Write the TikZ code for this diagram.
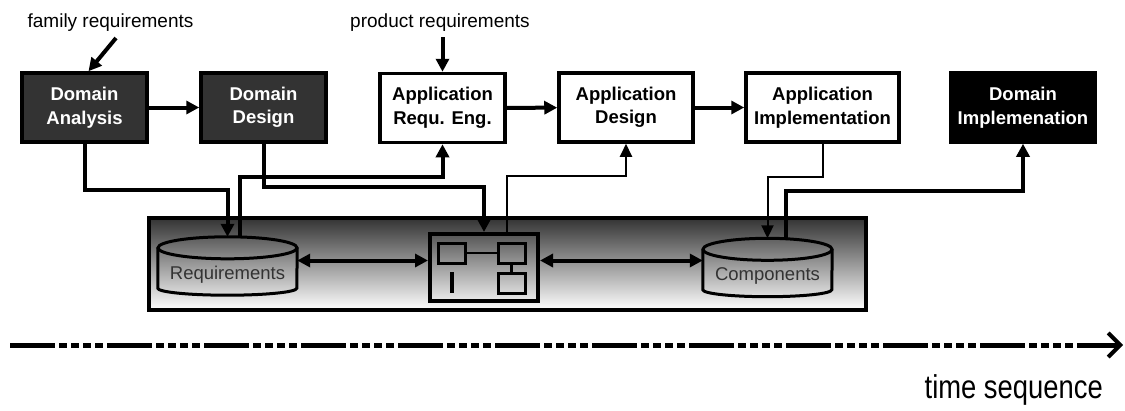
\documentclass[tikz,border=0pt]{standalone}
\usepackage{fontspec}
\setmainfont{Liberation Sans}
\newfontfamily\narrowsans[FakeStretch=0.83]{Liberation Sans}
\usetikzlibrary{arrows.meta,calc}
\newcommand\drawtub[2]{%
  % outline of a storage tub around the rectangular node #1 (half width #2)
  \draw[tubline] ($(#1.north)+(0,11)$) ellipse [x radius=#2, y radius=11pt];
  \draw[tubline] ($(#1.north west)+(0,11)$) -- ($(#1.south west)+(0,-7)$)
    arc [start angle=180, end angle=360, x radius=#2, y radius=7pt]
    -- ($(#1.north east)+(0,11)$);
}
\begin{document}
\begin{tikzpicture}[x=1pt,y=-1pt,
  proc/.style={draw=black, line width=3.5pt, minimum height=69pt, align=center,
    inner sep=0pt, font=\fontsize{18.5}{23.5}\selectfont\bfseries},
  darkproc/.style={proc, fill=black!80, text=white},
  blackproc/.style={proc, fill=black, text=white},
  lightproc/.style={proc, fill=white, text=black},
  reqlabel/.style={font=\fontsize{19}{22}\selectfont, anchor=base},
  arr/.style={line width=4pt, -{Triangle[length=13pt,width=13pt]}},
  thinarr/.style={line width=2pt, -{Triangle[length=13pt,width=12pt]}},
  dblarr/.style={line width=4pt, {Triangle[length=13pt,width=13pt]}-{Triangle[length=13pt,width=13pt]}},
  tubnode/.style={minimum width=139pt, minimum height=58pt, inner sep=0pt,
    text=black!80, font=\fontsize{18.5}{20}\selectfont},
  tubline/.style={line width=3pt, draw=black},
  iconbox/.style={draw=black, line width=3pt, minimum width=27pt, minimum height=20pt, inner sep=0pt},
  timeline/.style={line width=5pt,
    dash pattern=on 45pt off 4pt on 8pt off 4pt on 8pt off 4pt on 8pt off 4pt on 8pt off 4pt,
    -{Straight Barb[length=12pt,width=24pt,line width=4pt]}}
]
\useasboundingbox (0,0) rectangle (1125,410);
\fill[white] (0,0) rectangle (1125,410);

% repository panel
\node[draw=black, line width=4pt, minimum width=717pt, minimum height=92pt, inner sep=0pt,
  top color=black!80, bottom color=white] (repo) at (507.5,264) {};

% process boxes
\node[darkproc, minimum width=125pt] (DA) at (84.5,107.5) {Domain\\Analysis};
\node[darkproc, minimum width=125pt] (DD) at (263.5,107.5) {Domain\\Design};
\node[lightproc, minimum width=125pt] (ARE) at (442.5,108) {Application\\Requ. Eng.};
\node[lightproc, minimum width=134pt] (AD) at (626,107.5) {Application\\Design};
\node[lightproc, minimum width=153pt] (AI) at (822.5,107.5) {Application\\Implementation};
\node[blackproc, minimum width=144pt] (DI) at (1023,107.5) {Domain\\Implemenation};

% inputs
\node[reqlabel] (famlab) at (110.5,27) {family requirements};
\node[reqlabel] (prodlab) at (440,27) {product requirements};
\coordinate (famsrc) at (116,38);
\coordinate (prodsrc) at (442.5,37);
\draw[arr] (famsrc) -- ([xshift=4pt]DA.north);
\draw[arr] (prodsrc) -- (ARE.north);

% repositories
\node[tubnode] (req) at (227.5,266) {\raisebox{-13pt}[0pt][0pt]{Requirements}};
\drawtub{req}{69.5pt}
\node[tubnode, minimum width=129pt] (comp) at (767.5,267.5) {\raisebox{-13pt}[0pt][0pt]{Components}};
\drawtub{comp}{64.5pt}

% architecture icon
\node[draw=black, line width=4pt, minimum width=108pt, minimum height=67pt, inner sep=0pt] (arch) at (484,267.5) {};
\node[iconbox] (a1) at ($(arch.center)+(-32.5,-14.5)$) {};
\node[iconbox] (a2) at ($(arch.center)+(27.5,-14.5)$) {};
\node[iconbox] (a3) at ($(arch.center)+(27.5,15.5)$) {};
\coordinate (b1) at ($(arch.center)+(-32,4.5)$);
\coordinate (b2) at ($(arch.center)+(-32,25.5)$);
\draw[line width=2.5pt] (a1) -- (a2);
\draw[line width=2.5pt] (a2) -- (a3);
\draw[line width=4pt] (b1) -- (b2);

% flow between process boxes
\draw[arr] (DA) -- (DD);
\draw[arr] (ARE) -- (AD);
\draw[arr] (AD) -- (AI);

% flow to and from the repository
\draw[arr] (DA.south) -- ++(0,46) -| (req.north);
\draw[arr] ([xshift=12pt]req.north) -- ++(0,-60) -| (ARE.south);
\draw[arr] (DD.south) -- ++(0,43) -| (arch.north);
\draw[thinarr] ([xshift=23pt]arch.north) -- ++(0,-56) -| (AD.south);
\draw[thinarr] (AI.south) -- ++(0,33) -| (comp.north);
\draw[arr] ([xshift=18pt]comp.north) -- ++(0,-47) -| (DI.south);
\draw[dblarr] ($(req.east|-arch.west)+(0,-7)$) -- ($(arch.west)+(0,-7)$);
\draw[dblarr] ($(arch.east)+(0,-7)$) -- ($(comp.west|-arch.east)+(0,-7)$);

% time axis
\coordinate (t0) at (10,345);
\coordinate (t1) at (1123,345);
\draw[timeline] (t0) -- (t1);
\node[anchor=base east, font=\narrowsans\fontsize{33}{36}\selectfont, inner sep=0pt] (ts) at (1103,398) {time sequence};
\end{tikzpicture}
\end{document}
